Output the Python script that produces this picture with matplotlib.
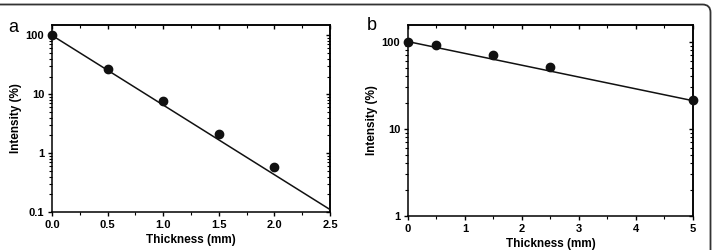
import matplotlib
matplotlib.use("Agg")
import matplotlib.pyplot as plt
import matplotlib.patches as patches
from matplotlib.ticker import LogLocator, MultipleLocator

plt.rcParams['font.family'] = ['Liberation Sans', 'DejaVu Sans']

# panel a data
a_thick = [0.0, 0.5, 1.0, 1.5, 2.0]
a_int = [100, 26.5, 7.6, 2.1, 0.59]
a_fit_x = [0.0, 2.5]
a_fit_y = [100, 0.11]

# panel b data
b_thick = [0, 0.5, 1.5, 2.5, 5]
b_int = [100, 92, 70, 51, 21.5]
b_fit_x = [0, 5]
b_fit_y = [100, 21]

a_xticks = [0.0, 0.5, 1.0, 1.5, 2.0, 2.5]
a_yticks = [0.1, 1, 10, 100]
a_yticklabels = ['0.1', '1', '10', '100']
b_xticks = [0, 1, 2, 3, 4, 5]
b_yticks = [1, 10, 100]
b_yticklabels = ['1', '10', '100']

fig = plt.figure(figsize=(7.13, 2.5), dpi=100)

ax_a = fig.add_axes([0.0729, 0.152, 0.39, 0.748])
ax_b = fig.add_axes([0.5722, 0.136, 0.3997, 0.764])


def style_axis(ax, xticks, xminor, xfmt, yticks, ylabels, xlim, ylim):
    ax.set_yscale('log')
    ax.set_xlim(*xlim)
    ax.set_ylim(*ylim)
    ax.set_xticks(xticks)
    ax.set_xticklabels([xfmt.format(v) for v in xticks])
    ax.xaxis.set_minor_locator(MultipleLocator(xminor))
    ax.set_yticks(yticks)
    ax.set_yticklabels(ylabels)
    ax.yaxis.set_minor_locator(LogLocator(base=10, subs=range(2, 10)))
    ax.yaxis.set_minor_formatter(plt.NullFormatter())
    for s in ax.spines.values():
        s.set_linewidth(1.1)
    ax.tick_params(which='major', direction='out', length=3, width=1,
                   labelsize=8, pad=2.5)
    ax.tick_params(which='minor', direction='out', length=2, width=0.8)
    for lab in ax.get_xticklabels() + ax.get_yticklabels():
        lab.set_fontweight('bold')
    # mirrored ticks on top and right, pointing inward
    sec_x = ax.secondary_xaxis('top')
    sec_x.set_xticks(xticks)
    sec_x.xaxis.set_minor_locator(MultipleLocator(xminor))
    sec_x.tick_params(which='both', direction='in', labeltop=False)
    sec_x.tick_params(which='major', length=3, width=1)
    sec_x.tick_params(which='minor', length=2, width=0.8)
    sec_x.spines['top'].set_linewidth(1.1)
    sec_y = ax.secondary_yaxis('right')
    sec_y.set_yticks(yticks)
    sec_y.yaxis.set_minor_locator(LogLocator(base=10, subs=range(2, 10)))
    sec_y.tick_params(which='both', direction='in', labelright=False)
    sec_y.tick_params(which='major', length=3, width=1)
    sec_y.tick_params(which='minor', length=2, width=0.8)
    sec_y.spines['right'].set_linewidth(1.1)
    ax.set_xlabel('Thickness (mm)', fontsize=8.5, fontweight='bold', labelpad=3)
    ax.set_ylabel('Intensity (%)', fontsize=8.5, fontweight='bold', labelpad=3)


ax_a.plot(a_fit_x, a_fit_y, color='#111111', lw=1.1, clip_on=False, zorder=3)
ax_a.plot(a_thick, a_int, 'o', color='#111111', ms=6, clip_on=False, zorder=4)
style_axis(ax_a, a_xticks, 0.25, '{:.1f}', a_yticks, a_yticklabels,
           (0, 2.5), (0.1, 150))

ax_b.plot(b_fit_x, b_fit_y, color='#111111', lw=1.1, clip_on=False, zorder=3)
ax_b.plot(b_thick, b_int, 'o', color='#111111', ms=6, clip_on=False, zorder=4)
style_axis(ax_b, b_xticks, 0.5, '{:d}', b_yticks, b_yticklabels,
           (0, 5), (1, 155))

fig.text(13 / 713, 1 - 32 / 250, 'a', fontsize=13, ha='center', va='baseline')
fig.text(372 / 713, 1 - 30 / 250, 'b', fontsize=13, ha='center', va='baseline')

# panel frame: top line and rounded right edge
frame = patches.FancyBboxPatch((-30, -30), 740.5, 275.5,
                               boxstyle='round,pad=0,rounding_size=8',
                               transform=None, fill=False, lw=1.3,
                               ec='#333333')
fig.patches.append(frame)

fig.savefig('out.png', dpi=100)
